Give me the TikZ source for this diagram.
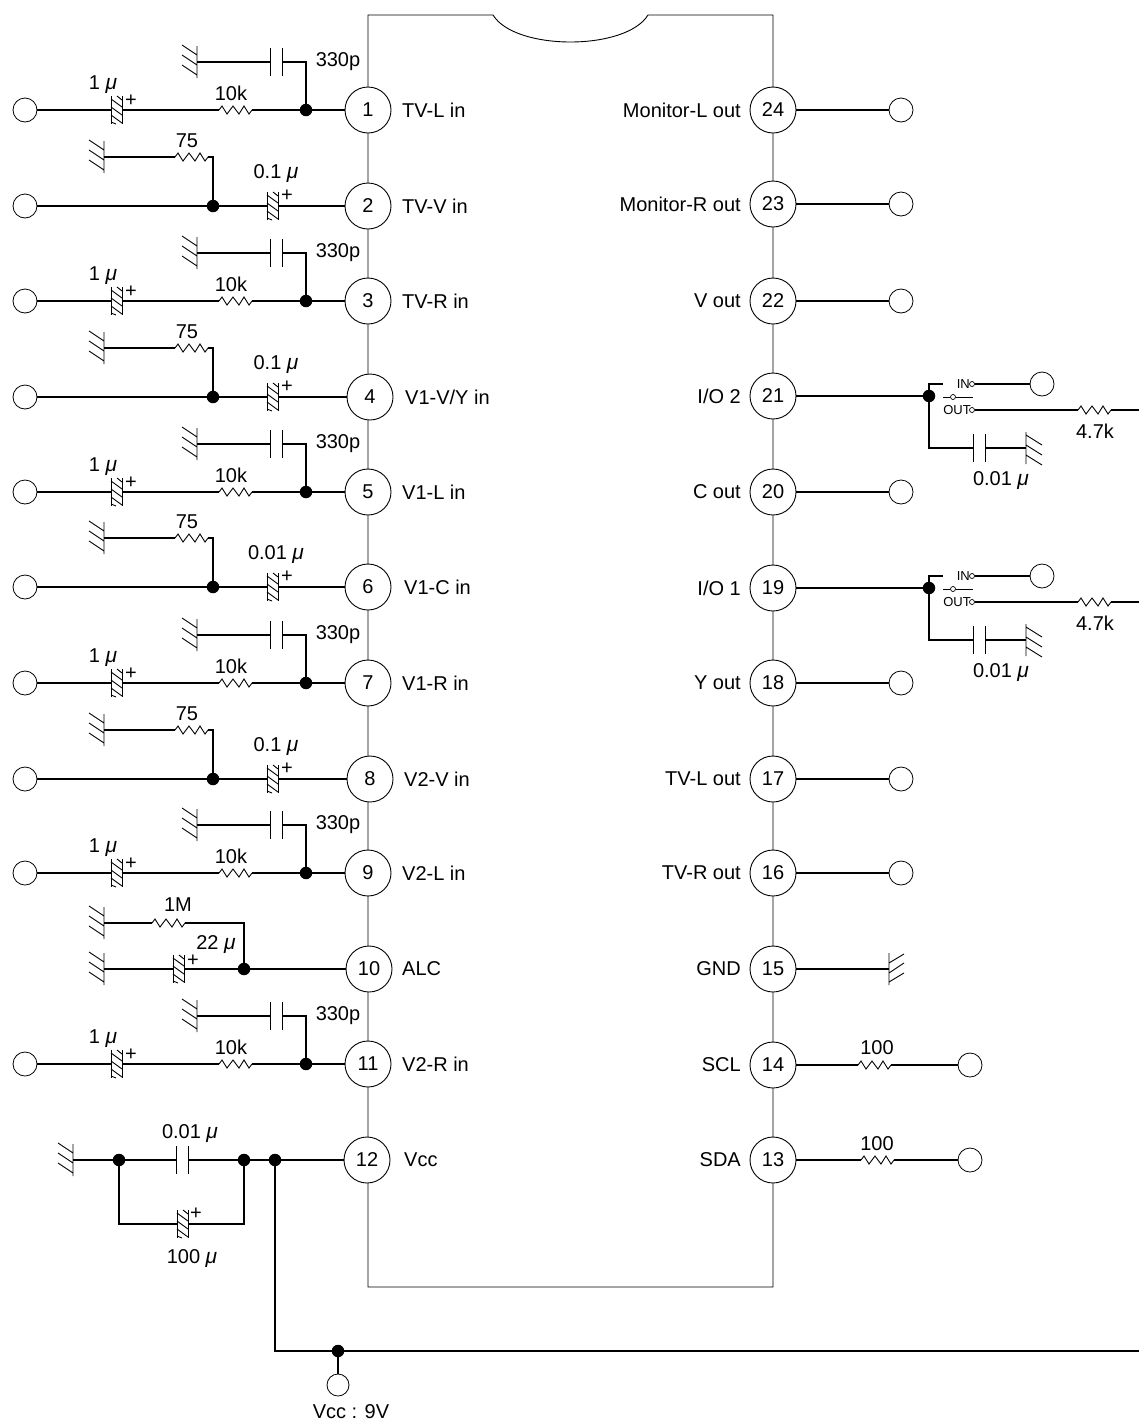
\documentclass[tikz,border=0pt]{standalone}
\usepackage{fontspec}
\setmainfont{Liberation Sans}
\newcommand{\mmu}{\textit{\fontsize{21}{21}\selectfont μ}}
\tikzset{
  x=1pt,y=-1pt,
  every node/.style={font=\fontsize{20}{22}\selectfont,inner sep=0pt},
  wire/.style={line width=1.2pt,black},
  part/.style={line width=0.9pt,black},
  icbody/.style={line width=0.9pt,black},
  pin/.style={circle,draw,line width=0.9pt,fill=white,minimum size=46pt},
  term/.style={circle,draw,line width=0.8pt,fill=white,minimum size=24pt},
  port/.style={circle,draw,line width=0.7pt,fill=white,minimum size=5pt},
  dot/.style={circle,fill=black,minimum size=12.5pt},
  tiny/.style={font=\fontsize{13}{14}\selectfont},
  plus/.style={font=\fontsize{20}{20}\selectfont},
  capn/.pic={
    \coordinate (-l) at (0,0); \coordinate (-r) at (12,0);
    \draw[part] (0,-14) -- (0,14) (12,-14) -- (12,14);
  },
  pol/.pic={
    \coordinate (-l) at (0,0); \coordinate (-r) at (11,0);
    \draw[part] (0,-14) -- (0,14) (11,-14) -- (11,14);
    \draw[part] (0,-11) -- (11,-3) (0,-3) -- (11,5) (0,5) -- (11,13) (0,12) -- (5,14) (6,-14) -- (11,-10);
  },
  res/.pic={
    \coordinate (-l) at (0,0); \coordinate (-r) at (33,0);
    \draw[part] (0,0) -- (3,-4) -- (8,4) -- (14,-4) -- (20,4) -- (25,-4) -- (30,4) -- (33,0);
  },
  gndl/.pic={
    \coordinate (-a) at (0,0);
    \draw[part] (0,-16) -- (0,16) (0,-7) -- (-15,-17) (0,3) -- (-15,-7) (0,13) -- (-15,3);
  },
  gndr/.pic={
    \coordinate (-a) at (0,0);
    \draw[part] (0,-16) -- (0,16) (0,-13) -- (16,-3) (0,-3) -- (16,7) (0,7) -- (16,17);
  },
  gndu/.pic={
    \coordinate (-a) at (0,0);
    \draw[part] (0,-16) -- (0,16) (0,-6) -- (15,-15) (0,4) -- (15,-6) (0,13) -- (15,4);
  },
}
\begin{document}
\begin{tikzpicture}
\path[use as bounding box,fill=white] (0,0) rectangle (1139,1422);
% IC body
\draw[icbody] (368,15) -- (493,15) .. controls (515,51) and (626,51) .. (648,15) -- (773,15) -- (773,1287) -- (368,1287) -- cycle;
% left pins
\foreach \n/\x/\y/\lx/\t in {1/368/110/402/TV-L in,2/368/206/402/TV-V in,3/368/301/402/TV-R in,4/370/397/405/{V1-V/Y in},5/368/492/402/V1-L in,6/368/587/404/V1-C in,7/368/683/402/V1-R in,8/370/779/404/V2-V in,9/368/873/402/V2-L in,10/369/969/402/ALC,11/368/1064/402/V2-R in,12/367/1160/404/Vcc}{
  \node[pin] (p\n) at (\x,\y) {\n};
  \node[anchor=west] (pl\n) at (\lx,\y) {\t};
}
% right pins
\foreach \n/\y/\t in {24/110/Monitor-L out,23/204/Monitor-R out,22/301/V out,21/396/{I/O 2},20/492/C out,19/588/{I/O 1},18/683/Y out,17/779/TV-L out,16/873/TV-R out,15/969/GND,14/1065/SCL,13/1160/SDA}{
  \node[pin] (p\n) at (773,\y) {\n};
  \node[anchor=east] (pl\n) at (741,\y) {\t};
}
% right outputs to terminals
\foreach \n/\y in {24/110,23/204,22/301,20/492,18/683,17/779,16/873}{
  \node[term] (t\n) at (901,\y) {};
  \draw[wire] (p\n) -- (t\n);
}
% audio input rows
\foreach \n/\y in {1/110,3/301,5/492,7/683,9/873,11/1064}{
  \node[term] (t\n) at (25,\y) {};
  \node[dot] (j\n) at (306,\y) {};
  \pic (pc\n) at (111,\y) {pol};
  \pic (r\n) at (219,\y) {res};
  \pic (cu\n) at (270,\y-48) {capn};
  \pic (g\n) at (197,\y-48) {gndl};
  \node (lu\n) at (103,\y-25) {1 \mmu};
  \node[plus] (pp\n) at (131,\y-9) {+};
  \node (lk\n) at (231,\y-17) {10k};
  \node (lp\n) at (338,\y-48) {330p};
  \draw[wire] (t\n) -- (pc\n-l) (pc\n-r) -- (r\n-l) (r\n-r) -- (j\n) -- (p\n);
  \draw[wire] (j\n) |- (cu\n-r) (cu\n-l) -- (g\n-a);
}
% video input rows
\foreach \n/\y/\c in {2/206/0.1,4/397/0.1,6/587/0.01,8/779/0.1}{
  \node[term] (t\n) at (25,\y) {};
  \node[dot] (j\n) at (213,\y) {};
  \pic (pc\n) at (267,\y) {pol};
  \pic (r\n) at (175,\y-49) {res};
  \pic (g\n) at (104,\y-49) {gndl};
  \node (lr\n) at (187,\y-65) {75};
  \node (lu\n) at (276,\y-32) {\c\ \mmu};
  \node[plus] (pp\n) at (287,\y-10) {+};
  \draw[wire] (t\n) -- (j\n) -- (pc\n-l) (pc\n-r) -- (p\n);
  \draw[wire] (g\n-a) -- (r\n-l) (r\n-r) -| (j\n);
}
% pin 10
\node[dot] (j10) at (244,969) {};
\pic (g10a) at (104,923) {gndl};
\pic (r10) at (152,923) {res};
\pic (g10b) at (104,969) {gndl};
\pic (pc10) at (173,969) {pol};
\node (l10a) at (178,905) {1M};
\node (l10b) at (216,945) {22 \mmu};
\node[plus] (pp10) at (193,961) {+};
\draw[wire] (g10a-a) -- (r10-l) (r10-r) -| (j10);
\draw[wire] (g10b-a) -- (pc10-l) (pc10-r) -- (j10) -- (p10);
% pin 12
\node[dot] (j12a) at (119,1160) {};
\node[dot] (j12b) at (244,1160) {};
\node[dot] (j12c) at (275,1160) {};
\pic (g12) at (73,1160) {gndl};
\pic (c12) at (176,1160) {capn};
\pic (pc12) at (177,1224) {pol};
\node (l12a) at (190,1134) {0.01 \mmu};
\node (l12b) at (192,1259) {100 \mmu};
\node[plus] (pp12) at (196,1214) {+};
\draw[wire] (g12-a) -- (j12a) -- (c12-l) (c12-r) -- (j12b) -- (j12c) -- (p12);
\draw[wire] (j12a) |- (pc12-l) (pc12-r) -| (j12b);
% Vcc bus
\node[dot] (jv) at (338,1351) {};
\node[term,minimum size=22pt] (tv) at (338,1385) {};
\coordinate (busend) at (1139,1351);
\node (lv) at (351,1412) {Vcc : 9V};
\draw[wire] (j12c) |- (jv) -- (busend);
\draw[wire] (jv) -- (tv);
% I/O rows
\foreach \n/\y in {21/396,19/588}{
  \node[dot] (j\n) at (929,\y) {};
  \coordinate (inb\n) at (943,\y-12);
  \node[port] (pi\n) at (972,\y-12) {};
  \node[port] (po\n) at (972,\y+14) {};
  \node[port] (ps\n) at (953,\y+1) {};
  \coordinate (sa\n) at (943,\y+1);
  \coordinate (sb\n) at (973,\y+1);
  \node[tiny,anchor=east] (li\n) at (970,\y-12) {IN};
  \node[tiny,anchor=east] (lo\n) at (971,\y+14) {OUT};
  \node[term] (ti\n) at (1042,\y-12) {};
  \pic (r\n) at (1078,\y+14) {res};
  \coordinate (e\n) at (1139,\y+14);
  \pic (c\n) at (973,\y+52) {capn};
  \pic (g\n) at (1026,\y+52) {gndr};
  \node (lr\n) at (1095,\y+35) {4.7k};
  \node (lc\n) at (1001,\y+85) {0.01 \mmu};
  \draw[wire] (p\n) -- (j\n);
  \draw[wire] (j\n) |- (inb\n);
  \draw[wire] (pi\n) -- (ti\n);
  \draw[part] (sa\n) -- (ps\n) -- (sb\n);
  \draw[wire] (po\n) -- (r\n-l) (r\n-r) -- (e\n);
  \draw[wire] (j\n) |- (c\n-l) (c\n-r) -- (g\n-a);
}
% pin 15
\pic (g15) at (889,969) {gndu};
\draw[wire] (p15) -- (g15-a);
% pins 14, 13
\foreach \n/\y/\x/\ly in {14/1065/858/1048,13/1160/861/1144}{
  \pic (r\n) at (\x,\y) {res};
  \node[term] (t\n) at (970,\y) {};
  \node (lr\n) at (877,\ly) {100};
  \draw[wire] (p\n) -- (r\n-l) (r\n-r) -- (t\n);
}
\end{tikzpicture}
\end{document}
